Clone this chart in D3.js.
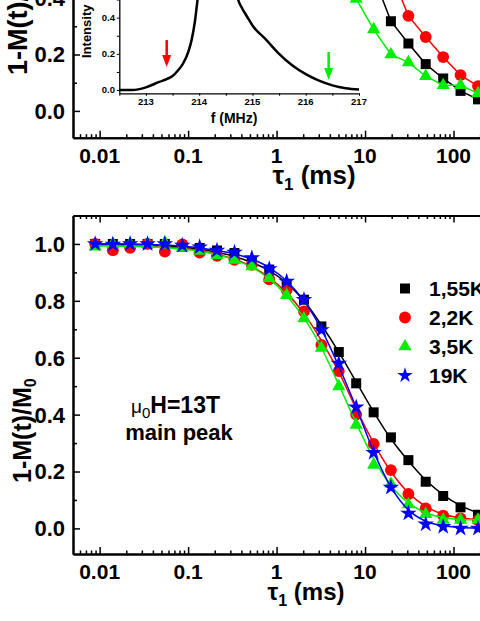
<!DOCTYPE html>
<html>
<head>
<meta charset="utf-8">
<script src="https://cdn.jsdelivr.net/npm/d3@7"></script>
<style>
body { margin: 0; background: #fff; }
svg { display: block; font-family: "Liberation Sans", Arial, sans-serif; font-weight: bold; }
</style>
</head>
<body>
<svg id="chart"></svg>
<script>
// waiting times tau1 (ms), common to both panels
const tau = [0.0089, 0.0141, 0.0221, 0.0348, 0.0546, 0.0859, 0.135, 0.212, 0.334, 0.525,
             0.826, 1.30, 2.04, 3.21, 5.05, 7.94, 12.5, 19.6, 30.9, 48.5, 76.4, 120, 189];

// bottom panel, main peak: measured points
const main155 = [1.0, 1.0, 1.0, 1.0, 1.0, 0.99, 0.986, 0.977, 0.968, 0.94, 0.91, 0.858, 0.804, 0.71, 0.62, 0.51, 0.408, 0.32, 0.24, 0.164, 0.114, 0.074, 0.048];
const main22  = [1.0, 0.978, 0.986, 1.0, 0.973, 0.998, 0.97, 0.958, 0.944, 0.927, 0.876, 0.838, 0.763, 0.645, 0.553, 0.40, 0.297, 0.205, 0.121, 0.07, 0.045, 0.035, 0.029];
const main35  = [0.99, 1.0, 1.0, 1.0, 1.005, 0.986, 0.975, 0.96, 0.944, 0.921, 0.88, 0.82, 0.738, 0.634, 0.499, 0.364, 0.223, 0.157, 0.084, 0.05, 0.03, 0.03, 0.03];
const main19  = [1.0, 0.998, 1.0, 1.0, 1.0, 0.995, 0.989, 0.977, 0.970, 0.951, 0.912, 0.868, 0.804, 0.698, 0.58, 0.426, 0.266, 0.144, 0.053, 0.015, 0.006, 0.0, 0.0];

// bottom panel: fitted curves read at the same tau
const fit155 = [1.0, 1.0, 0.999, 0.997, 0.994, 0.989, 0.981, 0.971, 0.956, 0.935, 0.906, 0.862, 0.80, 0.715, 0.62, 0.515, 0.41, 0.315, 0.237, 0.17, 0.118, 0.08, 0.055];
const fit22  = [0.995, 0.995, 0.994, 0.992, 0.989, 0.984, 0.976, 0.964, 0.946, 0.92, 0.882, 0.828, 0.755, 0.66, 0.55, 0.42, 0.30, 0.20, 0.125, 0.077, 0.05, 0.037, 0.031];
const fit35  = [0.993, 0.993, 0.992, 0.99, 0.987, 0.982, 0.974, 0.962, 0.944, 0.918, 0.877, 0.818, 0.74, 0.635, 0.505, 0.37, 0.245, 0.15, 0.09, 0.055, 0.038, 0.031, 0.03];
const fit19  = [1.0, 1.0, 0.999, 0.998, 0.996, 0.992, 0.986, 0.977, 0.965, 0.947, 0.917, 0.87, 0.80, 0.70, 0.57, 0.425, 0.27, 0.145, 0.065, 0.025, 0.009, 0.003, 0.001];

// top panel (satellite positions), only the lower part is in view
const sat155 = [null, null, null, null, null, null, null, null, null, null, null, null, null, null, null, 0.64, 0.478, 0.318, 0.239, 0.166, 0.115, 0.071, 0.041];
const sat22  = [null, null, null, null, null, null, null, null, null, null, null, null, null, null, null, 0.75, 0.62, 0.491, 0.337, 0.262, 0.191, 0.127, 0.088];
const sat35  = [null, null, null, null, null, null, null, null, null, null, null, null, null, null, 0.55, 0.397, 0.289, 0.2, 0.172, 0.123, 0.091, 0.091, 0.062];

// inset spectrum
const freq = [212.5, 212.75, 213.0, 213.25, 213.4, 213.5, 213.6, 213.7, 213.8, 213.86, 213.92, 213.97, 214.05, 214.15, 214.3, 214.4, 214.5, 214.58, 214.66, 214.73, 214.8, 214.9, 215.0, 215.25, 215.5, 215.75, 216.0, 216.25, 216.5, 216.75, 217.0];
const intensity = [0.0, 0.0, 0.015, 0.045, 0.062, 0.077, 0.108, 0.148, 0.215, 0.28, 0.38, 0.5, 0.65, 0.82, 0.97, 1.0, 0.95, 0.8, 0.6, 0.5, 0.455, 0.405, 0.357, 0.28, 0.2, 0.135, 0.088, 0.052, 0.026, 0.01, 0.003];
const arrowFreq = [213.39, 216.43];
const arrowTip = [0.127, 0.055];
const arrowTail = [0.276, 0.21];
const arrowColor = ['#ff0000', '#00ee00'];

const labels = ['1,55K', '2,2K', '3,5K', '19K'];
const colors = ['#000000', '#ff0000', '#00ee00', '#0000ff'];
const shapes = [d3.symbolSquare, d3.symbolCircle, d3.symbolTriangle, d3.symbolStar];
const sizes = [100, 110, 75, 85];

const xMajor = [0.01, 0.1, 1, 10, 100, 1000];
const xLabels = [0.01, 0.1, 1, 10, 100];
const xMinor = [];
[0.001, 0.01, 0.1, 1, 10, 100].forEach(dec => { for (let i = 2; i < 10; i++) xMinor.push(dec * i); });

const svg = d3.select('#chart').attr('width', 480).attr('height', 621);

const x = d3.scaleLog().domain([0.005, 1000]).range([73, 542]);
const yTop = d3.scaleLinear().domain([-0.095, 1.1]).range([137.7, -199.3]);
const yBot = d3.scaleLinear().domain([-0.09, 1.1]).range([554, 215.5]);

function axisStyle(g) {
    g.select('.domain').attr('stroke-width', 2);
    g.selectAll('.tick line').attr('stroke-width', 1.5);
}

function xAxis(yPos, top, withLabels, labelY) {
    const minors = xMinor.filter(d => d > 0.005 && d < 1000);
    const mk = top ? d3.axisTop : d3.axisBottom;
    svg.append('g').attr('transform', `translate(0,${yPos})`)
        .call(mk(x).tickValues(minors).tickSizeInner(-3.5).tickSizeOuter(0).tickFormat(''))
        .call(axisStyle);
    svg.append('g').attr('transform', `translate(0,${yPos})`)
        .call(mk(x).tickValues(xMajor).tickSizeInner(-7).tickSizeOuter(0).tickFormat(''))
        .call(axisStyle);
    if (withLabels) {
        svg.append('g').selectAll('text').data(xLabels).join('text')
            .attr('x', d => x(d)).attr('y', labelY)
            .attr('text-anchor', 'middle').attr('font-size', 21)
            .text(d => d);
    }
}

function yAxis(y, majors, minors) {
    svg.append('g').attr('transform', 'translate(73,0)')
        .call(d3.axisLeft(y).tickValues(minors).tickSizeInner(-4).tickSizeOuter(0).tickFormat(''))
        .call(axisStyle);
    svg.append('g').attr('transform', 'translate(73,0)')
        .call(d3.axisLeft(y).tickValues(majors).tickSizeInner(-7).tickSizeOuter(0).tickFormat(''))
        .call(axisStyle);
    svg.append('g').selectAll('text').data(majors).join('text')
        .attr('x', 65).attr('y', d => y(d)).attr('dy', '0.36em')
        .attr('text-anchor', 'end').attr('font-size', 22)
        .text(d3.format('.1f'));
}

// ---------- top panel ----------
xAxis(137.7, false, true, 163);
yAxis(yTop, [0, 0.2, 0.4, 0.6, 0.8, 1.0], [0.1, 0.3, 0.5, 0.7, 0.9]);

// inset
const xi = d3.scaleLinear().domain([212.5, 217]).range([119.3, 359]);
const yi = d3.scaleLinear().domain([-0.018, 1.05]).range([93.3, -100]);
const inset = svg.append('g');
inset.append('g').attr('transform', 'translate(0,93.3)')
    .call(d3.axisBottom(xi).tickValues(d3.range(212.5, 217.01, 0.5)).tickSizeInner(2.5).tickSizeOuter(0).tickFormat(''))
    .call(g => g.select('.domain').attr('stroke-width', 1.3));
inset.append('g').attr('transform', 'translate(119.3,0)')
    .call(d3.axisLeft(yi).tickValues(d3.range(0, 1.01, 0.1)).tickSizeInner(2.5).tickSizeOuter(0).tickFormat(''))
    .call(g => g.select('.domain').attr('stroke-width', 1.3));
inset.selectAll('.xl').data([213, 214, 215, 216, 217]).join('text')
    .attr('x', d => xi(d)).attr('y', 105).attr('text-anchor', 'middle').attr('font-size', 9.5).text(d => d);
inset.selectAll('.yl').data([0, 0.2, 0.4, 0.6]).join('text')
    .attr('x', 115).attr('y', d => yi(d)).attr('dy', '0.35em').attr('text-anchor', 'end').attr('font-size', 9.5)
    .text(d3.format('.1f'));
inset.append('text').attr('x', 234).attr('y', 123).attr('text-anchor', 'middle').attr('font-size', 14).text('f (MHz)');
inset.append('text').attr('transform', 'translate(91,58) rotate(-90)').attr('font-size', 13).text('Intensity');
inset.append('path')
    .datum(freq.map((f, i) => [f, intensity[i]]))
    .attr('fill', 'none').attr('stroke', '#000').attr('stroke-width', 2.5)
    .attr('d', d3.line().x(d => xi(d[0])).y(d => yi(d[1])).curve(d3.curveMonotoneX));
arrowFreq.forEach((f, i) => {
    const ax = xi(f), tip = yi(arrowTip[i]), tail = yi(arrowTail[i]);
    inset.append('line').attr('x1', ax).attr('x2', ax).attr('y1', tail).attr('y2', tip - 8)
        .attr('stroke', arrowColor[i]).attr('stroke-width', 2.5);
    inset.append('path').attr('fill', arrowColor[i])
        .attr('d', `M${ax - 4.5},${tip - 12}L${ax + 4.5},${tip - 12}L${ax},${tip}Z`);
});

// main top panel series
[sat155, sat22, sat35].forEach((vals, s) => {
    const pts = tau.map((t, i) => [t, vals[i]]).filter(d => d[1] !== null);
    svg.append('path').datum(pts)
        .attr('fill', 'none').attr('stroke', colors[s]).attr('stroke-width', 1.5)
        .attr('d', d3.line().x(d => x(d[0])).y(d => yTop(d[1])));
    svg.append('g').selectAll('path').data(pts).join('path')
        .attr('transform', d => `translate(${x(d[0])},${yTop(d[1])})`)
        .attr('fill', colors[s])
        .attr('d', d3.symbol().type(shapes[s]).size(sizes[s]));
});

svg.append('text').attr('transform', 'translate(27,75) rotate(-90)').attr('font-size', 27)
    .text('1-M(t)/');
svg.append('text').attr('x', 314).attr('y', 184).attr('text-anchor', 'middle').attr('font-size', 26)
    .call(t => {
        t.append('tspan').text('τ');
        t.append('tspan').attr('font-size', 17).attr('dy', 6).text('1');
        t.append('tspan').attr('dy', -6).text(' (ms)');
    });

// ---------- bottom panel ----------
xAxis(554, false, true, 579);
xAxis(215.5, true, false);
yAxis(yBot, [0, 0.2, 0.4, 0.6, 0.8, 1.0], [0.1, 0.3, 0.5, 0.7, 0.9]);

const mains = [main155, main22, main35, main19];
const fits = [fit155, fit22, fit35, fit19];
mains.forEach((vals, s) => {
    const fitPts = tau.map((t, i) => [t, fits[s][i]]);
    svg.append('path').datum(fitPts)
        .attr('fill', 'none').attr('stroke', colors[s]).attr('stroke-width', 1.5)
        .attr('d', d3.line().x(d => x(d[0])).y(d => yBot(d[1])).curve(d3.curveMonotoneX));
    svg.append('g').selectAll('path').data(tau.map((t, i) => [t, vals[i]])).join('path')
        .attr('transform', d => `translate(${x(d[0])},${yBot(d[1])})`)
        .attr('fill', colors[s])
        .attr('d', d3.symbol().type(shapes[s]).size(sizes[s]));
});

// legend
const leg = svg.append('g').selectAll('g').data(labels).join('g')
    .attr('transform', (d, i) => `translate(405,${288.5 + i * 29})`);
leg.append('path')
    .attr('fill', (d, i) => colors[i])
    .attr('d', (d, i) => d3.symbol().type(shapes[i]).size(i === 3 ? 75 : sizes[i])());
leg.append('text').attr('x', 24).attr('y', 7.5).attr('font-size', 21).text(d => d);

// annotation
svg.append('text').attr('x', 131).attr('y', 413).attr('font-size', 23)
    .call(t => {
        t.append('tspan').attr('font-weight', 'normal').attr('font-size', 19).text('μ');
        t.append('tspan').attr('font-weight', 'normal').attr('font-size', 15).attr('dy', 5).text('0');
        t.append('tspan').attr('dy', -5).text('H=13T');
    });
svg.append('text').attr('x', 179).attr('y', 440).attr('text-anchor', 'middle').attr('font-size', 22).text('main peak');

svg.append('text').attr('transform', 'translate(31,483) rotate(-90)').attr('font-size', 25)
    .call(t => {
        t.append('tspan').text('1-M(t)/M');
        t.append('tspan').attr('font-size', 16).attr('dy', 5).text('0');
    });
svg.append('text').attr('x', 306).attr('y', 600).attr('text-anchor', 'middle').attr('font-size', 24)
    .call(t => {
        t.append('tspan').text('τ');
        t.append('tspan').attr('font-size', 16).attr('dy', 6).text('1');
        t.append('tspan').attr('dy', -6).text(' (ms)');
    });
</script>
</body>
</html>
